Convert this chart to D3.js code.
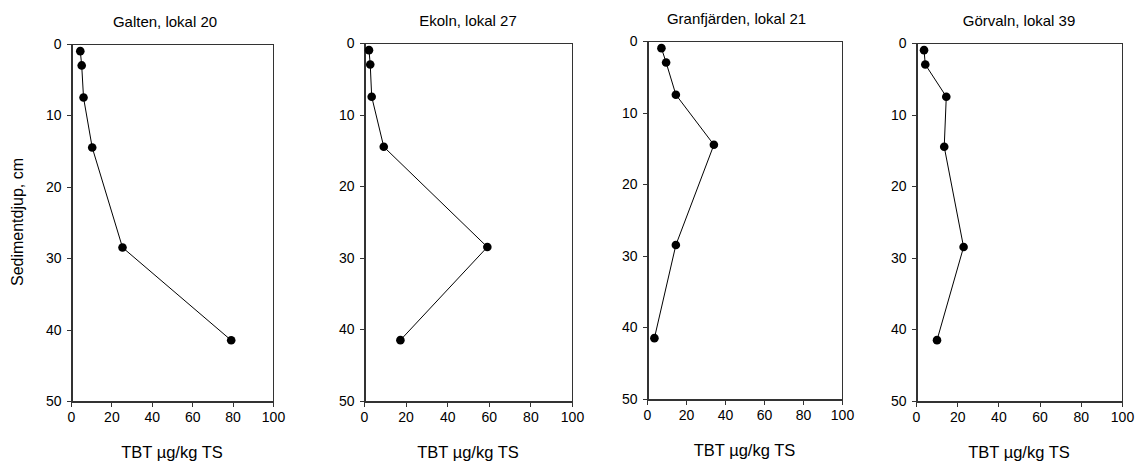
<!doctype html>
<html>
<head>
<meta charset="utf-8"/>
<style>
    html, body { margin: 0; padding: 0; background: #fff; }
    svg { display: block; }
    text { font-family: "Liberation Sans", Arial, sans-serif; fill: #000; }
    .axis path, .axis line { stroke: #333; shape-rendering: crispEdges; }
    .axis text { font-size: 14px; }
</style>
<script src="https://d3js.org/d3.v7.min.js"></script>
</head>
<body>
<svg width="1136" height="464"></svg>
<script>
    // sampling depths (cm), same for all cores
    var depths = [1, 3, 7.5, 14.5, 28.5, 41.5];

    // TBT, µg/kg TS, one array per station
    var galten = [4.6, 5.3, 6.2, 10.5, 25.5, 79.3];
    var ekoln = [2.4, 3.0, 3.7, 9.5, 59.3, 17.5];
    var granfjarden = [7.4, 9.8, 14.8, 34.3, 14.8, 3.8];
    var gorvaln = [3.9, 4.5, 14.7, 13.7, 23.1, 10.2];

    var titles = ["Galten, lokal 20", "Ekoln, lokal 27", "Granfjärden, lokal 21", "Görvaln, lokal 39"];
    var xTicks = [0, 20, 40, 60, 80, 100];
    var yTicks = [0, 10, 20, 30, 40, 50];
    var xLabel = "TBT µg/kg TS";
    var yLabel = "Sedimentdjup, cm";

    var series = [galten, ekoln, granfjarden, gorvaln];

    // plot box of each panel (pixels)
    var boxes = [
        {left: 71, right: 273, top: 44, bottom: 401},
        {left: 364, right: 572, top: 43, bottom: 401},
        {left: 647, right: 842, top: 41, bottom: 399},
        {left: 916, right: 1122, top: 43, bottom: 401}
    ];

    var svg = d3.select("svg");

    series.forEach(function(vals, i) {
        var b = boxes[i];
        var x = d3.scaleLinear().domain([0, 100]).range([b.left, b.right]);
        var y = d3.scaleLinear().domain([0, 50]).range([b.top, b.bottom]);
        var g = svg.append("g");

        // frame
        g.append("rect")
            .attr("x", b.left + 0.5).attr("y", b.top + 0.5)
            .attr("width", b.right - b.left).attr("height", b.bottom - b.top)
            .attr("fill", "none").attr("stroke", "#333")
            .attr("shape-rendering", "crispEdges");

        g.append("g")
            .attr("class", "axis")
            .attr("transform", "translate(0," + (b.bottom + 0.5) + ")")
            .call(d3.axisBottom(x).tickValues(xTicks).tickSize(5).tickPadding(6).tickSizeOuter(0));

        g.append("g")
            .attr("class", "axis")
            .attr("transform", "translate(" + (b.left + 0.5) + ",0)")
            .call(d3.axisLeft(y).tickValues(yTicks).tickSize(5).tickPadding(5).tickSizeOuter(0));

        g.selectAll(".axis text").attr("fill", "#000");

        var pts = vals.map(function(v, k) { return [v, depths[k]]; });

        g.append("path")
            .datum(pts)
            .attr("fill", "none")
            .attr("stroke", "#000")
            .attr("stroke-width", 1)
            .attr("d", d3.line().x(function(d) { return x(d[0]); }).y(function(d) { return y(d[1]); }));

        g.selectAll("circle")
            .data(pts).enter().append("circle")
            .attr("cx", function(d) { return x(d[0]); })
            .attr("cy", function(d) { return y(d[1]); })
            .attr("r", 4.3)
            .attr("fill", "#000");

        g.append("text")
            .attr("x", (b.left + b.right) / 2 - (i === 0 ? 7 : (i === 2 ? 8 : 0)))
            .attr("y", b.top - 17)
            .attr("text-anchor", "middle")
            .style("font-size", "15px")
            .text(titles[i]);

        g.append("text")
            .attr("x", (b.left + b.right) / 2)
            .attr("y", b.bottom + 57)
            .attr("text-anchor", "middle")
            .style("font-size", "16.5px")
            .text(xLabel);
    });

    svg.append("text")
        .attr("transform", "translate(23,222) rotate(-90)")
        .attr("text-anchor", "middle")
        .style("font-size", "16px")
        .text(yLabel);
</script>
</body>
</html>
